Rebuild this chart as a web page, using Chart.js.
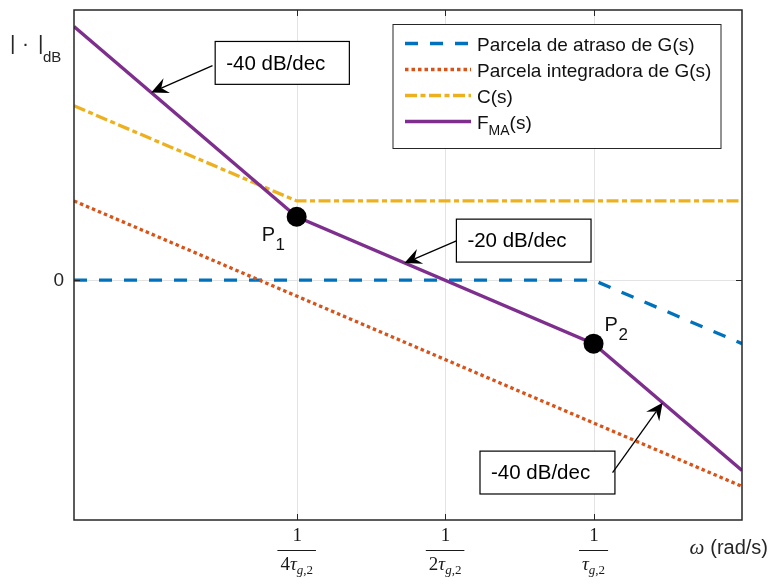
<!DOCTYPE html>
<html lang="pt">
<head>
<meta charset="UTF-8">
<title>Assíntotas de Bode - F_MA(s)</title>
<script src="https://cdn.jsdelivr.net/npm/chart.js@4.4.1/dist/chart.umd.min.js"></script>
<style>
  html, body { margin: 0; background: #fff; }
  #wrap { width: 769px; height: 584px; position: relative; }
</style>
</head>
<body>
<div id="wrap"><canvas id="bode"></canvas></div>
<script>
// abscissa = log2(w * tau_g2): 0 -> 1/tau_g2, -1 -> 1/(2 tau_g2), -2 -> 1/(4 tau_g2)
const wLog = [-3.5, -2, 0, 1];
// ordinate in units of 20 dB/dec over one octave (sem escala numérica no original)
const atraso      = [0, 0, 0, -1];
const integradora = [1.25, -0.25, -2.25, -3.25];
const cS          = [2.75, 1.25, 1.25, 1.25];
const fMA         = [4.0, 1.0, -1.0, -3.0];

// pontos P1, P2 (quebras de F_MA)
const pontosX = [wLog[1], wLog[2]];
const pontosY = [fMA[1], fMA[2]];
const pontosNome = ['1', '2'];

// ticks do eixo x: 1 / (k tau_g,2)
const tickPos = [-2, -1, 0];
const tickNum = ['4', '2', ''];
const yTicks = [0];

const legendNames = ['Parcela de atraso de G(s)', 'Parcela integradora de G(s)', 'C(s)', 'F'];

// caixas de texto com setas: caixa [x0, x1, yTop, yBottom], de -> para (coords. dos dados)
const notas = [
  { txt: '-40 dB/dec', box: [-2.549, -1.645, 3.764, 3.088], from: [-2.567, 3.384], to: [-2.98, 2.96] },
  { txt: '-20 dB/dec', box: [-0.924, -0.017, 0.963, 0.286], from: [-0.924, 0.619], to: [-1.274, 0.27] },
  { txt: '-40 dB/dec', box: [-0.765, 0.144, -2.694, -3.370], from: [0.128, -3.033], to: [0.465, -1.93] }
];

const COL = { blue: '#0072BD', orange: '#D95319', yellow: '#EDB120', purple: '#7E2F8E' };
const DASH = { blue: [13, 12], orange: [3.5, 3], yellow: [12, 3.5, 5, 3.5], purple: [] };
const LW = 3.3;
const SANS = '"Liberation Sans", Arial, sans-serif';
const SERIF = '"Liberation Serif", "DejaVu Serif", serif';

const pts = ys => ys.map((y, i) => ({ x: wLog[i], y }));

function arrow(ctx, x0, y0, x1, y1) {
  const dx = x1 - x0, dy = y1 - y0, len = Math.hypot(dx, dy);
  const ux = dx / len, uy = dy / len, nx = -uy, ny = ux;
  const L = 17, W = 8, back = 11;
  const bx = x1 - ux * L, by = y1 - uy * L;
  const mx = x1 - ux * back, my = y1 - uy * back;
  ctx.beginPath();
  ctx.moveTo(x0, y0);
  ctx.lineTo(mx, my);
  ctx.stroke();
  ctx.beginPath();
  ctx.moveTo(x1, y1);
  ctx.lineTo(bx + nx * W, by + ny * W);
  ctx.lineTo(mx, my);
  ctx.lineTo(bx - nx * W, by - ny * W);
  ctx.closePath();
  ctx.fill();
}

const overlay = {
  id: 'overlay',
  beforeDatasetsDraw(chart) {
    const { ctx, chartArea: a, scales: { x, y } } = chart;
    ctx.save();
    ctx.strokeStyle = '#e3e3e3';
    ctx.lineWidth = 1;
    tickPos.forEach(v => {
      const px = Math.round(x.getPixelForValue(v)) + 0.5;
      ctx.beginPath(); ctx.moveTo(px, a.top); ctx.lineTo(px, a.bottom); ctx.stroke();
    });
    yTicks.forEach(v => {
      const py = Math.round(y.getPixelForValue(v)) + 0.5;
      ctx.beginPath(); ctx.moveTo(a.left, py); ctx.lineTo(a.right, py); ctx.stroke();
    });
    ctx.restore();
  },
  afterDatasetsDraw(chart) {
    const { ctx, chartArea: a, scales: { x, y } } = chart;
    ctx.save();

    // moldura e ticks
    ctx.strokeStyle = '#262626';
    ctx.lineWidth = 1.5;
    ctx.strokeRect(a.left, a.top, a.right - a.left, a.bottom - a.top);
    ctx.lineWidth = 1;
    tickPos.forEach(v => {
      const px = Math.round(x.getPixelForValue(v)) + 0.5;
      ctx.beginPath();
      ctx.moveTo(px, a.bottom); ctx.lineTo(px, a.bottom - 6);
      ctx.moveTo(px, a.top); ctx.lineTo(px, a.top + 6);
      ctx.stroke();
    });
    yTicks.forEach(v => {
      const py = Math.round(y.getPixelForValue(v)) + 0.5;
      ctx.beginPath();
      ctx.moveTo(a.left, py); ctx.lineTo(a.left + 6, py);
      ctx.moveTo(a.right, py); ctx.lineTo(a.right - 6, py);
      ctx.stroke();
      ctx.fillStyle = '#262626';
      ctx.font = '19px ' + SANS;
      ctx.textAlign = 'right';
      ctx.textBaseline = 'middle';
      ctx.fillText(String(v), a.left - 10, py);
    });

    // rótulos de fração no eixo x
    ctx.fillStyle = '#1a1a1a';
    ctx.textBaseline = 'alphabetic';
    const fMain = '19px ' + SERIF, fIt = 'italic 19px ' + SERIF;
    const fSubIt = 'italic 13px ' + SERIF, fSub = '13px ' + SERIF;
    tickPos.forEach((v, i) => {
      const px = x.getPixelForValue(v);
      ctx.textAlign = 'center';
      ctx.font = fMain;
      ctx.fillText('1', px + 0.5, a.bottom + 21);
      // denominador: k tau_{g,2}
      ctx.textAlign = 'left';
      ctx.font = fMain;
      const wNum = ctx.measureText(tickNum[i]).width;
      ctx.font = fIt;
      const wTau = ctx.measureText('τ').width;
      ctx.font = fSubIt;
      const wG = ctx.measureText('g').width;
      ctx.font = fSub;
      const wSub = ctx.measureText(',2').width;
      const total = wNum + wTau + wG + wSub;
      let cx = px - total / 2;
      const base = a.bottom + 50;
      ctx.font = fMain;
      ctx.fillText(tickNum[i], cx, base); cx += wNum;
      ctx.font = fIt;
      ctx.fillText('τ', cx, base); cx += wTau;
      ctx.font = fSubIt;
      ctx.fillText('g', cx, base + 4); cx += wG;
      ctx.font = fSub;
      ctx.fillText(',2', cx, base + 4);
      ctx.strokeStyle = '#1a1a1a';
      ctx.lineWidth = 1;
      ctx.beginPath();
      ctx.moveTo(px - total / 2 - 3, a.bottom + 30.5);
      ctx.lineTo(px + total / 2 + 3, a.bottom + 30.5);
      ctx.stroke();
    });

    // título do eixo x
    ctx.fillStyle = '#262626';
    ctx.textAlign = 'right';
    ctx.font = '20px ' + SANS;
    const wRad = ctx.measureText('(rad/s)').width;
    ctx.fillText('(rad/s)', 768, a.bottom + 34);
    ctx.font = 'italic 21px ' + SERIF;
    ctx.fillText('ω', 768 - wRad - 6, a.bottom + 34);

    // título do eixo y: | · |_dB
    ctx.textAlign = 'left';
    ctx.font = '21px ' + SANS;
    ctx.fillText('|', 10, 50);
    ctx.fillText('·', 22, 50);
    ctx.fillText('|', 38, 50);
    ctx.font = '15px ' + SANS;
    ctx.fillText('dB', 43, 62);

    // rótulos P1, P2
    ctx.fillStyle = '#111';
    pontosX.forEach((v, i) => {
      const px = x.getPixelForValue(v), py = y.getPixelForValue(pontosY[i]);
      const lx = i === 0 ? px - 35 : px + 11;
      const ly = i === 0 ? py + 24 : py - 12.5;
      ctx.font = '20px ' + SANS;
      ctx.fillText('P', lx, ly);
      const wP = ctx.measureText('P').width;
      ctx.font = '17px ' + SANS;
      ctx.fillText(pontosNome[i], lx + wP + 0.5, ly + 9);
    });

    // legenda
    const lg = { x0: 393, y0: 24.5, x1: 721, y1: 148.5 };
    ctx.fillStyle = '#fff';
    ctx.fillRect(lg.x0, lg.y0, lg.x1 - lg.x0, lg.y1 - lg.y0);
    ctx.strokeStyle = '#262626';
    ctx.lineWidth = 1;
    ctx.strokeRect(lg.x0, lg.y0, lg.x1 - lg.x0, lg.y1 - lg.y0);
    const keys = ['blue', 'orange', 'yellow', 'purple'];
    keys.forEach((k, i) => {
      const base = 50.5 + i * 26;
      ctx.strokeStyle = COL[k];
      ctx.lineWidth = LW;
      ctx.setLineDash(DASH[k]);
      ctx.beginPath();
      ctx.moveTo(405, base - 7); ctx.lineTo(471, base - 7);
      ctx.stroke();
      ctx.setLineDash([]);
      ctx.fillStyle = '#111';
      ctx.font = '19px ' + SANS;
      ctx.fillText(legendNames[i], 477, base);
      if (k === 'purple') {
        const wF = ctx.measureText('F').width;
        ctx.font = '14px ' + SANS;
        ctx.fillText('MA', 477 + wF, base + 6);
        const wMA = ctx.measureText('MA').width;
        ctx.font = '19px ' + SANS;
        ctx.fillText('(s)', 477 + wF + wMA, base);
      }
    });

    // anotações com setas
    notas.forEach(n => {
      const bx0 = x.getPixelForValue(n.box[0]), bx1 = x.getPixelForValue(n.box[1]);
      const by0 = y.getPixelForValue(n.box[2]), by1 = y.getPixelForValue(n.box[3]);
      ctx.fillStyle = '#fff';
      ctx.fillRect(bx0, by0, bx1 - bx0, by1 - by0);
      ctx.strokeStyle = '#000';
      ctx.lineWidth = 1.2;
      ctx.strokeRect(bx0, by0, bx1 - bx0, by1 - by0);
      ctx.fillStyle = '#000';
      ctx.font = '20.5px ' + SANS;
      ctx.textBaseline = 'middle';
      ctx.fillText(n.txt, bx0 + 11, (by0 + by1) / 2 + 1);
      ctx.textBaseline = 'alphabetic';
      ctx.lineWidth = 1.3;
      arrow(ctx, x.getPixelForValue(n.from[0]), y.getPixelForValue(n.from[1]),
                 x.getPixelForValue(n.to[0]), y.getPixelForValue(n.to[1]));
    });

    ctx.restore();
  }
};

const ctx = document.getElementById('bode').getContext('2d');
new Chart(ctx, {
  type: 'line',
  data: {
    datasets: [
      { label: 'P', data: pontosX.map((v, i) => ({ x: v, y: pontosY[i] })), showLine: false,
        pointRadius: 10, pointBackgroundColor: '#000', pointBorderWidth: 0 },
      { label: 'F_MA(s)', data: pts(fMA), borderColor: COL.purple, borderWidth: LW },
      { label: 'C(s)', data: pts(cS), borderColor: COL.yellow, borderWidth: LW, borderDash: DASH.yellow },
      { label: 'Parcela integradora de G(s)', data: pts(integradora), borderColor: COL.orange, borderWidth: LW, borderDash: DASH.orange },
      { label: 'Parcela de atraso de G(s)', data: pts(atraso), borderColor: COL.blue, borderWidth: LW, borderDash: DASH.blue }
    ]
  },
  options: {
    responsive: true,
    maintainAspectRatio: false,
    animation: false,
    layout: { padding: { left: 74, top: 5, right: 27, bottom: 64 } },
    elements: { point: { radius: 0 }, line: { tension: 0, borderCapStyle: 'butt', fill: false } },
    plugins: { legend: { display: false }, tooltip: { enabled: false } },
    scales: {
      x: { type: 'linear', min: -3.5, max: 1, display: false },
      y: { type: 'linear', min: -3.78, max: 4.26, display: false }
    }
  },
  plugins: [overlay]
});
</script>
</body>
</html>
